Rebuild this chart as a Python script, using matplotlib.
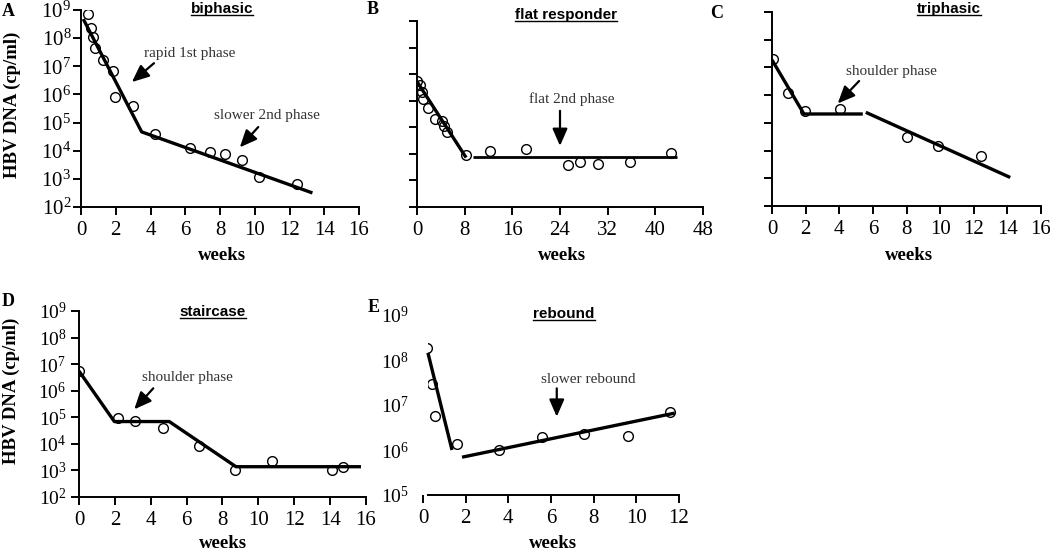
import matplotlib
matplotlib.use('Agg')
import matplotlib.pyplot as plt
from matplotlib.lines import Line2D
from matplotlib.patches import Rectangle
from matplotlib.ticker import NullLocator

W, H = 1050, 551
plt.rcParams['font.family'] = 'Liberation Serif'

# values, y in log10(copies/ml)
# A: biphasic
a_wk = [0.38, 0.56, 0.71, 0.82, 1.28, 1.86, 1.97, 2.99, 4.27, 6.28, 7.41, 8.28, 9.29, 10.27, 12.45]
a_log = [8.85, 8.35, 8.05, 7.64, 7.22, 6.83, 5.91, 5.58, 4.59, 4.08, 3.95, 3.88, 3.66, 3.07, 2.80]
a_fit_wk = [0.13, 3.49, 13.32]
a_fit_log = [8.68, 4.67, 2.50]

# B: flat responder
b_wk = [0.0, 0.5, 0.78, 1.06, 1.9, 3.08, 4.25, 4.59, 4.99, 8.24, 12.2, 18.3, 25.3, 27.3, 30.3, 35.8, 42.6]
b_log = [6.74, 6.58, 6.32, 6.07, 5.72, 5.32, 5.22, 5.03, 4.82, 3.94, 4.11, 4.19, 3.59, 3.69, 3.62, 3.69, 4.03]
b_fit1_wk = [0.0, 8.24]
b_fit1_log = [6.72, 3.86]
b_fit2_wk = [9.35, 43.6]
b_fit2_log = [3.9, 3.9]

# C: triphasic
c_wk = [0.04, 0.95, 1.95, 4.05, 8.04, 9.9, 12.44]
c_log = [7.30, 6.06, 5.41, 5.49, 4.48, 4.17, 3.80]
c_fit1_wk = [0.0, 1.9, 5.4]
c_fit1_log = [7.27, 5.32, 5.32]
c_fit2_wk = [5.58, 14.17]
c_fit2_log = [5.38, 3.03]

# D: staircase
d_wk = [0.0, 2.16, 3.14, 4.70, 6.69, 8.71, 10.74, 14.12, 14.70]
d_log = [6.74, 4.98, 4.87, 4.61, 3.92, 3.0, 3.35, 3.01, 3.14]
d_fit_wk = [0.0, 1.97, 5.03, 8.75, 15.72]
d_fit_log = [6.74, 4.84, 4.84, 3.14, 3.14]

# E: rebound
e_wk = [0.2, 0.4, 0.56, 1.58, 3.56, 5.58, 7.55, 9.6, 11.6]
e_log = [8.27, 7.47, 6.76, 6.13, 6.0, 6.29, 6.36, 6.31, 6.84]
e_fit1_wk = [0.23, 1.36]
e_fit1_log = [8.16, 6.0]
e_fit2_wk = [1.83, 11.8]
e_fit2_log = [5.84, 6.82]

TXT = '#333333'


def px(x0, y0, x1, y1):
    # pixel box (left, top, right, bottom) -> figure fraction rect
    return [x0 / W, 1 - y1 / H, (x1 - x0) / W, (y1 - y0) / H]


def pw(v):
    return [10.0 ** k for k in v]


def setup(ax, xmax, xstep, ylo, yhi, ylabels=True):
    ax.set_yscale('log')
    ax.set_xlim(0, xmax)
    ax.set_ylim(10.0 ** ylo, 10.0 ** yhi)
    ax.set_xticks(range(0, xmax + 1, xstep))
    dec = list(range(ylo, yhi + 1))
    ax.set_yticks([10.0 ** k for k in dec])
    ax.yaxis.set_minor_locator(NullLocator())
    if ylabels:
        ax.set_yticklabels([r'$\mathregular{10^{%d}}$' % k for k in dec])
    else:
        ax.set_yticklabels([])
    for s in ('top', 'right'):
        ax.spines[s].set_visible(False)
    for s in ('left', 'bottom'):
        ax.spines[s].set_linewidth(1.4)
    ax.tick_params(direction='out', length=6, width=1.4, labelsize=15, pad=4)
    ax.tick_params(axis='y', pad=1)
    ax.set_facecolor('none')


def pts(ax, wk, lg):
    return ax.plot(wk, pw(lg), 'o', ms=7, mfc='none', mec='black', mew=1.0)[0]


def fit(ax, wk, lg, lw=2.4):
    ax.plot(wk, pw(lg), '-', color='black', lw=lw, solid_capstyle='butt')


def note(ax, txt, tx, ty, tail, head):
    ax.text(tx, 10.0 ** ty, txt, ha='center', va='center', fontsize=11, color=TXT)
    ax.annotate('', xy=(head[0], 10.0 ** head[1]), xytext=(tail[0], 10.0 ** tail[1]),
                arrowprops=dict(arrowstyle='-|>,head_length=0.8,head_width=0.35',
                                mutation_scale=13, lw=1.6, color='black',
                                shrinkA=0, shrinkB=0))


fig = plt.figure(figsize=(W / 100, H / 100), dpi=100)

axA = fig.add_axes(px(81, 10, 359, 207))
axB = fig.add_axes(px(417, 21, 703, 207))
axC = fig.add_axes(px(772, 12, 1041, 206))
axD = fig.add_axes(px(79, 311, 366, 497))
axE = fig.add_axes(px(423, 315, 679, 495))

setup(axA, 16, 2, 2, 9)
setup(axB, 48, 8, 2, 9, ylabels=False)
setup(axC, 16, 2, 2, 9, ylabels=False)
setup(axD, 16, 2, 2, 9)
axD.tick_params(axis='y', labelsize=14, pad=3)
setup(axE, 12, 2, 5, 9)
axE.spines['left'].set_visible(False)
axE.tick_params(axis='y', length=0, pad=10, labelsize=14)
axE.spines['bottom'].set_bounds(0.23, 12)

# A
pts(axA, a_wk, a_log)
fit(axA, a_fit_wk, a_fit_log)
note(axA, 'rapid 1st phase', 6.26, 7.47, (4.2, 7.11), (2.93, 6.44))
note(axA, 'slower 2nd phase', 10.7, 5.26, (10.2, 4.84), (9.14, 4.12))

# B
pts(axB, b_wk, b_log)
fit(axB, b_fit1_wk, b_fit1_log)
fit(axB, b_fit2_wk, b_fit2_log, lw=2.0)
note(axB, 'flat 2nd phase', 26.0, 6.07, (24.0, 5.62), (24.0, 4.3))

# C
pts(axC, c_wk, c_log)
fit(axC, c_fit1_wk, c_fit1_log)
fit(axC, c_fit2_wk, c_fit2_log)
note(axC, 'shoulder phase', 7.08, 6.87, (5.18, 6.51), (3.91, 5.70))

# D
pts(axD, d_wk, d_log)
fit(axD, d_fit_wk, d_fit_log)
note(axD, 'shoulder phase', 6.04, 6.51, (4.14, 6.09), (3.08, 5.30))

# E  (first point is cut off at the left edge in the original)
ep = pts(axE, e_wk, e_log)
ep.set_clip_path(Rectangle((0.24, 1e4), 13, 1e10, transform=axE.transData))
fit(axE, e_fit1_wk, e_fit1_log)
fit(axE, e_fit2_wk, e_fit2_log)
note(axE, 'slower rebound', 7.73, 7.56, (6.27, 7.37), (6.27, 6.74))

# titles (bold sans, underlined)
titles = []
for ax, t, tx, ty in [(axA, 'biphasic', 0.507, 1.005), (axB, 'flat responder', 0.521, 1.03),
                      (axC, 'triphasic', 0.658, 1.015), (axD, 'staircase', 0.467, 0.995),
                      (axE, 'rebound', 0.551, 1.005)]:
    titles.append(ax.text(tx, ty, t, transform=ax.transAxes, ha='center', va='center',
                          family='Liberation Sans', fontweight='bold', fontsize=11))

# axis labels
for ax, cx, cy in [(axA, 222, 256), (axB, 562, 255), (axC, 909, 255), (axD, 223, 544), (axE, 553, 543)]:
    ax.set_xlabel('weeks', fontsize=13.5, fontweight='bold', va='center')
    ax.xaxis.set_label_coords(cx / W, 1 - cy / H, transform=fig.transFigure)
for ax, cx, cy in [(axA, 12, 105), (axD, 11, 391)]:
    ax.set_ylabel('HBV DNA (cp/ml)', fontsize=13.5, fontweight='bold', va='center')
    ax.yaxis.set_label_coords(cx / W, 1 - cy / H, transform=fig.transFigure)

# panel letters
for lab, cx, cy in [('A', 8, 11), ('B', 373, 10), ('C', 717, 13), ('D', 8, 302), ('E', 374, 307)]:
    fig.text(cx / W, 1 - cy / H, lab, ha='center', va='center', fontsize=13, fontweight='bold')

# underline the titles
fig.canvas.draw()
inv = fig.transFigure.inverted()
for t in titles:
    bb = t.get_window_extent()
    (x0, y0), (x1, _) = inv.transform([(bb.x0, bb.y0 + 1), (bb.x1, bb.y0 + 1)])
    fig.add_artist(Line2D([x0, x1], [y0, y0], transform=fig.transFigure, color='black', lw=1.0))

fig.savefig('out.png', dpi=100)
